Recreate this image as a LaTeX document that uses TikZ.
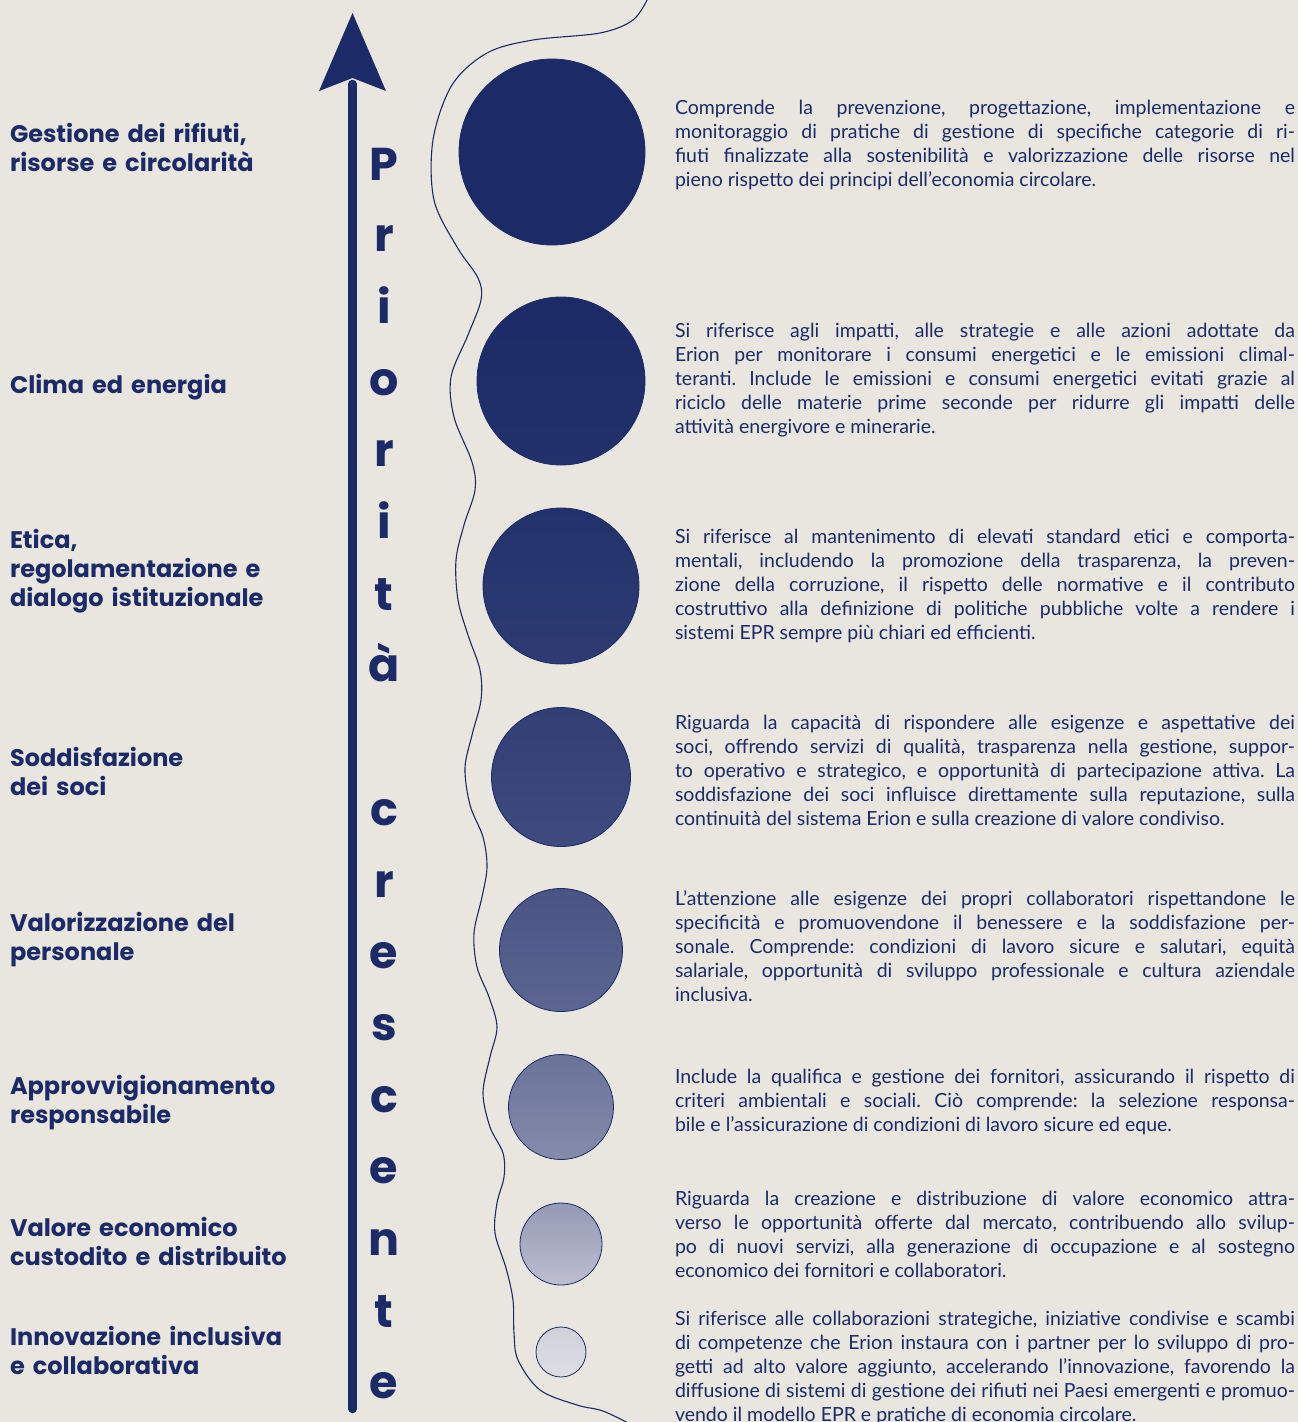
\documentclass[tikz,border=0pt]{standalone}
\usepackage{fontspec}
\usepackage{xcolor}
\setmainfont{Lato}
\newfontfamily\poppins{Poppins}
\definecolor{navy}{HTML}{1C2B67}
\definecolor{pale}{HTML}{DEDDE4}
\definecolor{paper}{HTML}{E8E6DF}
\hyphenpenalty=10000
\tolerance=10000
\emergencystretch=20pt
\frenchspacing

\begin{document}
\begin{tikzpicture}[x=1pt,y=-1pt]
        \tikzstyle{every node}=[inner sep=0pt, outer sep=0pt, text=navy]
        \tikzstyle{topic}=[anchor=base west, text width=320pt, align=left, font=\poppins\bfseries\fontsize{24}{29}\selectfont]
        \tikzstyle{letter}=[anchor=base, font=\poppins\bfseries\fontsize{46}{46}\selectfont]
        \tikzstyle{desc}=[anchor=base west, text width=620pt, align=justify, font=\fontsize{19.5}{24}\selectfont]
        \tikzstyle{dot}=[circle, draw=navy, line width=0.8pt, shading=axis]

        % Background
        \fill[paper] (0,0) rectangle (1298,1422);
        \useasboundingbox (0,0) rectangle (1298,1422);

        % Axis
        \coordinate (axisbot) at (352.5,1409);
        \coordinate (axistop) at (352.5,84);
        \draw[navy, line width=8.5pt, line cap=round] (axisbot) -- (axistop);
        \fill[navy] (352.5,13) -- (386,91) -- (352.5,78) -- (319,91) -- cycle;

        % Wave
        \draw[navy, line width=1.1pt] plot[smooth, tension=0.55] coordinates {(648,-2) (633,20) (600,33) (533,40) (487,53) (452,85) (433,140) (434,200) (457,247) (478,278) (481,300) (468,335) (451,377) (454,417) (472,462) (475,490) (464,525) (456,560) (458,600) (468,635) (480,670) (481,700) (472,735) (465,768) (470,805) (483,837) (487,867) (482,897) (474,933) (477,967) (489,997) (497,1027) (490,1057) (483,1093) (490,1127) (503,1153) (504,1177) (497,1203) (495,1233) (506,1268) (513,1300) (514,1333) (518,1360) (540,1390) (577,1405) (603,1411) (632,1425)};

        % Letters
        \node (l0) [letter] at (384,180) {P};
        \node (l1) [letter] at (384,251.7) {r};
        \node (l2) [letter] at (384,323.4) {i};
        \node (l3) [letter] at (384,395.1) {o};
        \node (l4) [letter] at (384,466.8) {r};
        \node (l5) [letter] at (384,538.5) {i};
        \node (l6) [letter] at (384,610.2) {t};
        \node (l7) [letter] at (384,681.9) {à};
        \node (l9) [letter] at (384,825.3) {c};
        \node (l10) [letter] at (384,897) {r};
        \node (l11) [letter] at (384,968.7) {e};
        \node (l12) [letter] at (384,1040.4) {s};
        \node (l13) [letter] at (384,1112.1) {c};
        \node (l14) [letter] at (384,1183.8) {e};
        \node (l15) [letter] at (384,1255.5) {n};
        \node (l16) [letter] at (384,1327.2) {t};
        \node (l17) [letter] at (384,1398.9) {e};

        % Circles
        \node (rifiuti) [dot, minimum size=186pt, top color=navy, bottom color=navy] at (552,152) {};
        \node (clima) [dot, minimum size=168pt, top color=navy, bottom color=navy!97!pale] at (561,381) {};
        \node (etica) [dot, minimum size=156pt, top color=navy!96!pale, bottom color=navy!91!pale] at (561,586) {};
        \node (soci) [dot, minimum size=139pt, top color=navy!89!pale, bottom color=navy!82!pale] at (561,777) {};
        \node (personale) [dot, minimum size=123pt, top color=navy!77!pale, bottom color=navy!67!pale] at (561,950) {};
        \node (fornitori) [dot, minimum size=105pt, top color=navy!60!pale, bottom color=navy!46!pale] at (561,1107) {};
        \node (valore) [dot, minimum size=82pt, top color=navy!38!pale, bottom color=navy!17!pale] at (561,1244) {};
        \node (innovazione) [dot, minimum size=50pt, top color=navy!7!pale, bottom color=pale] at (561,1352) {};

        % Topics
        \node (trifiuti) [topic] at (10,142) {Gestione dei rifiuti,\\risorse e circolarità};
        \node (tclima) [topic] at (10,393) {Clima ed energia};
        \node (tetica) [topic] at (10,548) {Etica,\\regolamentazione e\\dialogo istituzionale};
        \node (tsoci) [topic] at (10,766) {Soddisfazione\\dei soci};
        \node (tpersonale) [topic] at (10,931) {Valorizzazione del\\personale};
        \node (tfornitori) [topic] at (10,1094) {Approvvigionamento\\responsabile};
        \node (tvalore) [topic] at (10,1236) {Valore economico\\custodito e distribuito};
        \node (tinnovazione) [topic] at (10,1345) {Innovazione inclusiva\\e collaborativa};

        % Descriptions
        \node (drifiuti) [desc] at (675,114) {Comprende la prevenzione, progettazione, implementazione e\linebreak monitoraggio di pratiche di gestione di specifiche categorie di ri-\linebreak fiuti finalizzate alla sostenibilità e valorizzazione delle risorse nel\linebreak pieno rispetto dei principi dell’economia circolare.};
        \node (dclima) [desc] at (675,337) {Si riferisce agli impatti, alle strategie e alle azioni adottate da\linebreak Erion per monitorare i consumi energetici e le emissioni climal-\linebreak teranti. Include le emissioni e consumi energetici evitati grazie al\linebreak riciclo delle materie prime seconde per ridurre gli impatti delle\linebreak attività energivore e minerarie.};
        \node (detica) [desc] at (675,543) {Si riferisce al mantenimento di elevati standard etici e comporta-\linebreak mentali, includendo la promozione della trasparenza, la preven-\linebreak zione della corruzione, il rispetto delle normative e il contributo\linebreak costruttivo alla definizione di politiche pubbliche volte a rendere i\linebreak sistemi EPR sempre più chiari ed efficienti.};
        \node (dsoci) [desc] at (675,729) {Riguarda la capacità di rispondere alle esigenze e aspettative dei\linebreak soci, offrendo servizi di qualità, trasparenza nella gestione, suppor-\linebreak to operativo e strategico, e opportunità di partecipazione attiva. La\linebreak soddisfazione dei soci influisce direttamente sulla reputazione, sulla\linebreak continuità del sistema Erion e sulla creazione di valore condiviso.};
        \node (dpersonale) [desc] at (675,905) {L’attenzione alle esigenze dei propri collaboratori rispettandone le\linebreak specificità e promuovendone il benessere e la soddisfazione per-\linebreak sonale. Comprende: condizioni di lavoro sicure e salutari, equità\linebreak salariale, opportunità di sviluppo professionale e cultura aziendale\linebreak inclusiva.};
        \node (dfornitori) [desc] at (675,1083) {Include la qualifica e gestione dei fornitori, assicurando il rispetto di\linebreak criteri ambientali e sociali. Ciò comprende: la selezione responsa-\linebreak bile e l’assicurazione di condizioni di lavoro sicure ed eque.};
        \node (dvalore) [desc] at (675,1205) {Riguarda la creazione e distribuzione di valore economico attra-\linebreak verso le opportunità offerte dal mercato, contribuendo allo svilup-\linebreak po di nuovi servizi, alla generazione di occupazione e al sostegno\linebreak economico dei fornitori e collaboratori.};
        \node (dinnovazione) [desc] at (675,1325) {Si riferisce alle collaborazioni strategiche, iniziative condivise e scambi\linebreak di competenze che Erion instaura con i partner per lo sviluppo di pro-\linebreak getti ad alto valore aggiunto, accelerando l’innovazione, favorendo la\linebreak diffusione di sistemi di gestione dei rifiuti nei Paesi emergenti e promuo-\linebreak vendo il modello EPR e pratiche di economia circolare.};

    \end{tikzpicture}
\end{document}
